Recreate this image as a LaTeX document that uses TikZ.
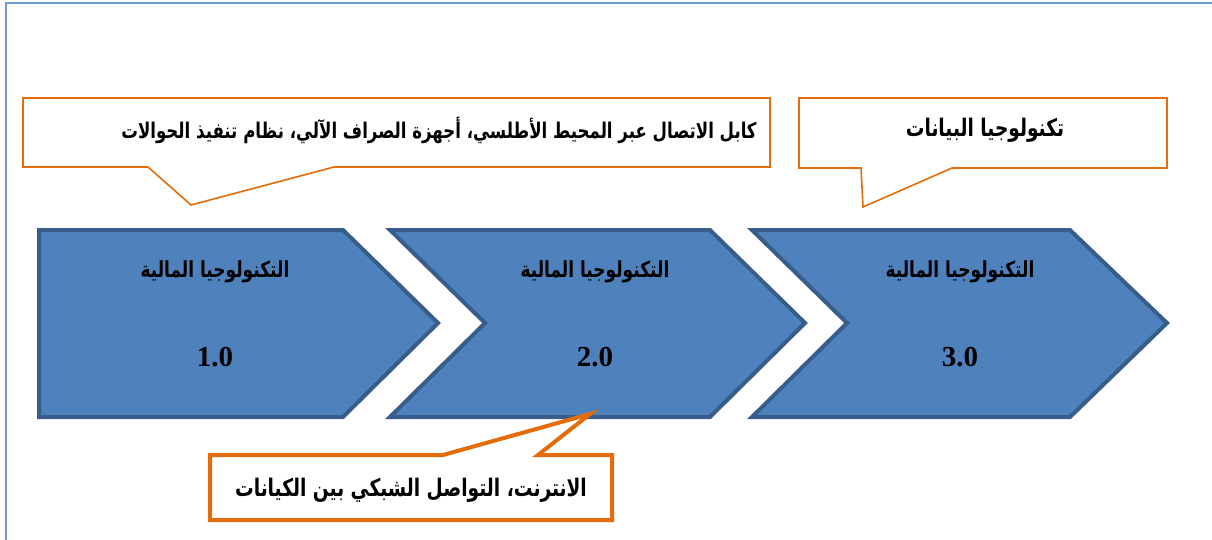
\documentclass[tikz,border=0pt]{standalone}
\usepackage{graphicx}
\usepackage{fontspec}
\setmainfont{Liberation Serif}
\newfontfamily\arabicfont[Script=Arabic]{DejaVu Sans}
\TeXXeTstate=1
\newcommand\artext[1]{\scalebox{1}[1.3]{\beginR #1\endR}}
\definecolor{chevfill}{RGB}{79,129,189}
\definecolor{chevline}{RGB}{56,93,138}
\definecolor{calline}{RGB}{228,108,10}
\definecolor{framecol}{RGB}{110,155,215}
\tikzset{
  chev/.style={fill=chevfill, draw=chevline, line width=4pt, line join=miter},
  callout/.style={fill=white, draw=calline, line width=1.6pt, line join=miter},
  calloutthick/.style={fill=white, draw=calline, line width=4pt, line join=miter},
  artxt/.style={font=\arabicfont\bfseries\fontsize{17}{20}\selectfont, inner sep=0pt},
  artxtbig/.style={font=\arabicfont\bfseries\fontsize{18.6}{22}\selectfont, inner sep=0pt},
  artxtsmall/.style={font=\arabicfont\bfseries\fontsize{16.6}{20}\selectfont, inner sep=0pt},
  numtxt/.style={font=\bfseries\fontsize{29}{32}\selectfont, inner sep=0pt},
}
\begin{document}
\begin{tikzpicture}[x=1pt,y=-1pt]
\useasboundingbox (0,0) rectangle (1212,540);
% frame
\draw[framecol, line width=1.5pt] (6,540) -- (6,3) -- (1212,3);
% chevrons
\draw[chev] (39,230) -- (343,230) -- (438,323) -- (343,417) -- (39,417) -- cycle;
\draw[chev] (390,230) -- (710,230) -- (805,323) -- (710,417) -- (390,417) -- (485,323) -- cycle;
\draw[chev] (752,230) -- (1070,230) -- (1167,323) -- (1070,417) -- (752,417) -- (847,323) -- cycle;
% chevron texts
\node[artxt] (t1) at (215,272) {\artext{التكنولوجيا المالية}};
\node[numtxt] (n1) at (215,357) {1.0};
\node[artxt] (t2) at (595,272) {\artext{التكنولوجيا المالية}};
\node[numtxt] (n2) at (595,357) {2.0};
\node[artxt] (t3) at (960,272) {\artext{التكنولوجيا المالية}};
\node[numtxt] (n3) at (960,357) {3.0};
% callout 1
\draw[callout] (23,98) -- (770,98) -- (770,167) -- (334,167) -- (191,205) -- (148,167) -- (23,167) -- cycle;
\node[artxtsmall] (c1) at (439,130) {\artext{كابل الاتصال عبر المحيط الأطلسي، أجهزة الصراف الآلي، نظام تنفيذ الحوالات}};
% callout 2
\draw[callout] (799,98) -- (1167,98) -- (1167,168) -- (952,168) -- (863,207) -- (861,168) -- (799,168) -- cycle;
\node[artxtbig] (c2) at (985,130) {\artext{تكنولوجيا البيانات}};
% callout 3
\draw[calloutthick] (210,455) -- (443,455) -- (590,414) -- (538,455) -- (612,455) -- (612,520) -- (210,520) -- cycle;
\node[artxtbig] (c3) at (411,490) {\artext{الانترنت، التواصل الشبكي بين الكيانات}};
\end{tikzpicture}
\end{document}
